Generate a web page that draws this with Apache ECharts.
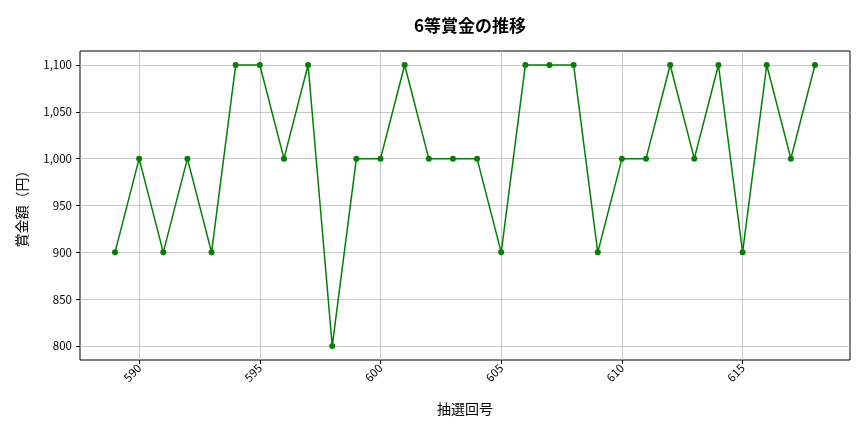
<!DOCTYPE html>
<html><head><meta charset="utf-8">
<script src="https://cdn.jsdelivr.net/npm/echarts@6/dist/echarts.min.js"></script>
<style>html,body{margin:0;padding:0;background:#fff}#c{width:864px;height:432px}</style>
</head><body><div id="c"></div>
<script>
const drawNumbers = [589,590,591,592,593,594,595,596,597,598,599,600,601,602,603,604,605,606,607,608,609,610,611,612,613,614,615,616,617,618];
const prizeValues = [900,1000,900,1000,900,1100,1100,1000,1100,800,1000,1000,1100,1000,1000,1000,900,1100,1100,1100,900,1000,1000,1100,1000,1100,900,1100,1000,1100];
const xTicks = [590,595,600,605,610,615];
const yTicks = [800,850,900,950,1000,1050,1100];

const font = '"Noto Sans CJK JP","Noto Sans",sans-serif';
const chart = echarts.init(document.getElementById('c'), null, {renderer:'canvas'});
chart.setOption({
  animation:false,
  title:{text:'6等賞金の推移',left:465,top:12,textAlign:'center',
    textStyle:{fontFamily:font,fontSize:17,fontWeight:'bold',color:'#000'}},
  grid:{left:80,right:14,top:51,bottom:72,show:true,borderColor:'#000',borderWidth:1,backgroundColor:'transparent'},
  xAxis:{type:'value',min:587.55,max:619.45,
    name:'抽選回号',nameLocation:'middle',nameGap:42,
    nameTextStyle:{fontFamily:font,fontSize:14,color:'#000'},
    axisLine:{show:false},
    axisTick:{show:true,customValues:xTicks,length:4,lineStyle:{color:'#000'}},
    axisLabel:{customValues:xTicks,rotate:45,fontFamily:font,fontSize:11.5,color:'#000',margin:6},
    splitLine:{show:true,lineStyle:{color:'#bbb',width:0.8}}
  },
  yAxis:{type:'value',min:785,max:1115,
    name:'賞金額（円）',nameLocation:'middle',nameGap:51,nameRotate:90,
    nameTextStyle:{fontFamily:font,fontSize:14,color:'#000'},
    axisLine:{show:false},
    axisTick:{show:true,customValues:yTicks,length:4,lineStyle:{color:'#000'}},
    axisLabel:{customValues:yTicks,fontFamily:font,fontSize:11.5,color:'#000',margin:8,
      formatter:v=>v.toLocaleString('en-US')},
    splitLine:{show:true,lineStyle:{color:'#bbb',width:0.8}}
  },
  series:[{type:'line',data:drawNumbers.map((d,i)=>[d,prizeValues[i]]),
    symbol:'circle',symbolSize:6,
    lineStyle:{color:'#008000',width:1.5},
    itemStyle:{color:'#008000'}}]
});
</script></body></html>
